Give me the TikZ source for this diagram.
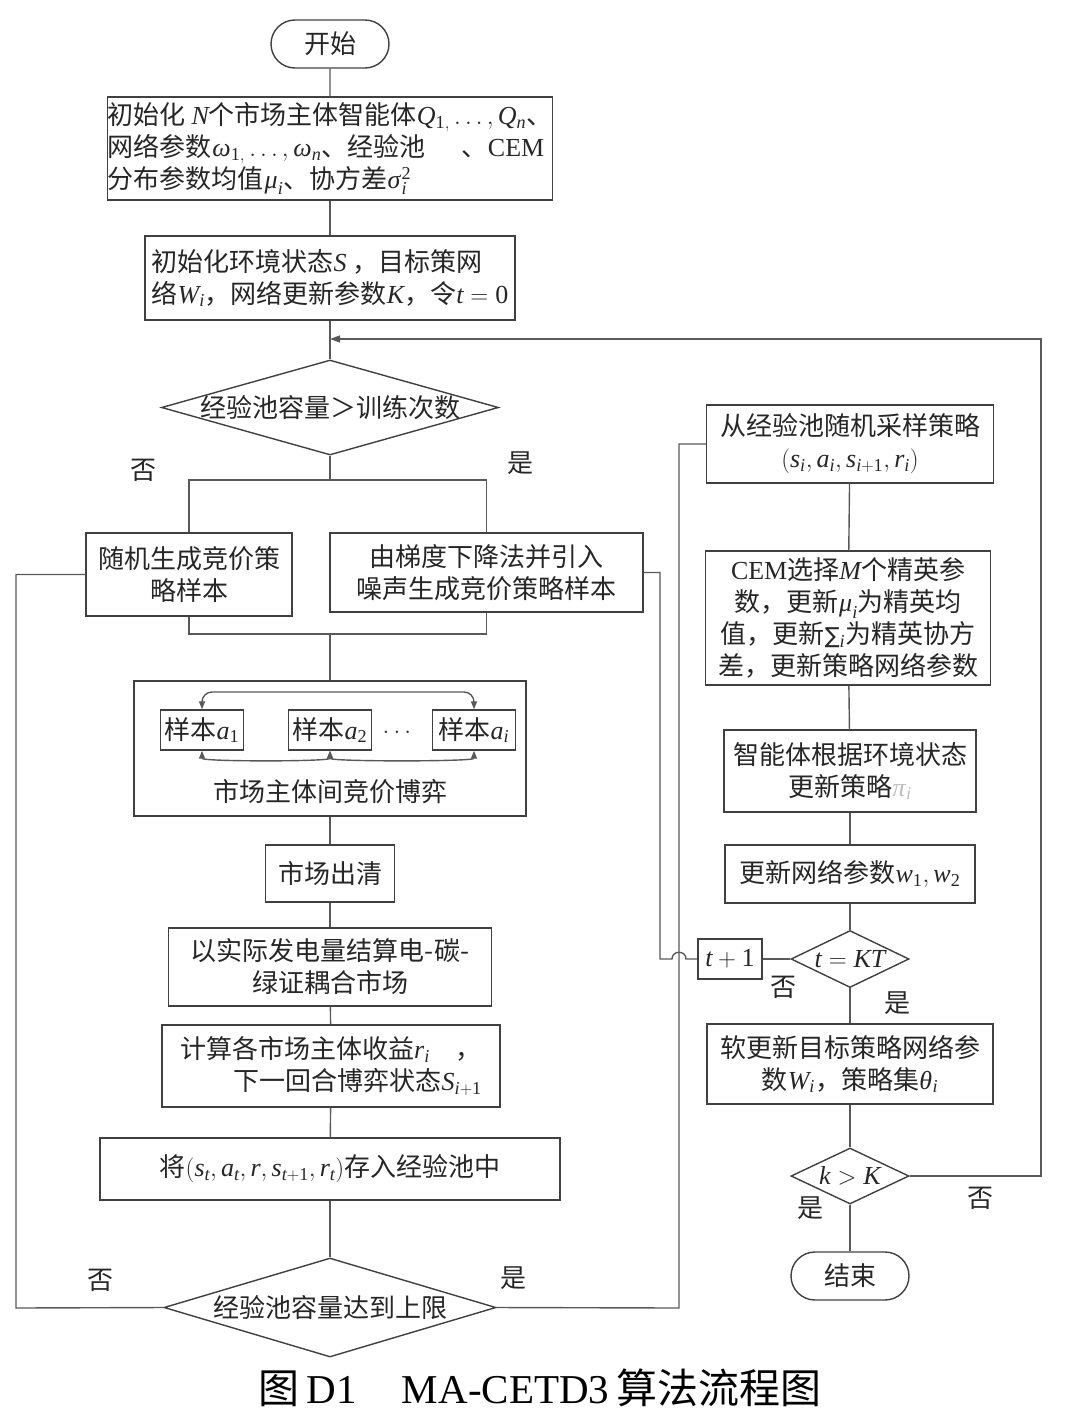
\documentclass[tikz,border=0pt]{standalone}
\usepackage{mathspec}
\setmainfont{Liberation Serif}
\setmathsfont(Digits,Latin,Greek){Liberation Serif}
\newfontfamily\cjk{Noto Sans CJK SC}
\newfontfamily\symf{DejaVu Sans}
\usetikzlibrary{shapes.geometric,shapes.misc,arrows.meta}

\begin{document}
\begin{tikzpicture}[%
    x=1pt, y=-1pt,                          % work on the pixel grid, top-down
    >={Triangle[length=10pt,width=7pt]},    % small solid arrow heads
    line width=1.4pt,
    ]
% -------------------------------------------------
% Box styles
\tikzset{
  base/.style={draw=black!75, text=black!85, align=center, inner sep=0pt,
    font=\cjk\fontsize{26}{32}\selectfont},
  proc/.style={base, rectangle},
  term/.style={base, rounded rectangle, minimum width=118pt, minimum height=48pt},
  test/.style={base, diamond},
  samp/.style={base, rectangle, minimum width=83pt, minimum height=40pt},
  % Connector line styles
  norm/.style={draw=black!65},
  lab/.style={text=black!85, inner sep=0pt, font=\cjk\fontsize{26}{32}\selectfont},
  tips/.style={norm, {Triangle[length=8pt,width=6pt]}-{Triangle[length=8pt,width=6pt]}}
}
\useasboundingbox (0,0) rectangle (1080,1414);
% -------------------------------------------------
% Left column
\node [term] (start) at (330,44) {开始};
\node [proc, minimum width=445pt, minimum height=103pt, align=left] (init1) at (330,148.5)
  {初始化 $N$个市场主体智能体$Q_{1,}\ldots,Q_n$、\\
   网络参数$\omega_{1,}\ldots,\omega_n$、经验池\hspace{1.4em}、{\rmfamily CEM}\\
   分布参数均值$\mu_i$、协方差$\sigma_i^2$};
\node [proc, minimum width=370pt, minimum height=84pt, align=left] (init2) at (330,278)
  {初始化环境状态$S$ ，目标策网\\络$W_i$，网络更新参数$K$，令$t=0$};
\node [test, minimum width=337pt, minimum height=95pt] (d1) at (330,407.5) {};
\node [lab] (d1txt) at (d1) {经验池容量＞训练次数};
\node [proc, minimum width=206pt, minimum height=83pt] (rand) at (189,574.5)
  {随机生成竞价策\\略样本};
\node [proc, minimum width=313pt, minimum height=79pt] (grad) at (486.5,572.5)
  {由梯度下降法并引入\\噪声生成竞价策略样本};
% bidding game between market players
\node [proc, minimum width=392pt, minimum height=135pt] (game) at (330,748.5) {};
\node [samp] (sa1) at (202,730) {样本$a_1$};
\node [samp] (sa2) at (330,730) {样本$a_2$};
\node [lab] (dots) at (397,732) {$\ldots$};
\node [samp] (sai) at (474,730) {样本$a_i$};
\node [lab] (gametxt) at (330,792) {市场主体间竞价博弈};
\node [proc, minimum width=129pt, minimum height=57pt] (clear) at (330,873.5) {市场出清};
\node [proc, minimum width=323pt, minimum height=78pt] (settle) at (330,967)
  {以实际发电量结算电-碳-\\绿证耦合市场};
\node [proc, minimum width=338pt, minimum height=82pt, align=right] (calc) at (331,1066)
  {计算各市场主体收益$r_i$\quad ，\\下一回合博弈状态$S_{i+1}$};
\node [proc, minimum width=460pt, minimum height=62pt] (store) at (330,1169)
  {将$(s_t,a_t,r,s_{t+1},r_t)$存入经验池中};
\node [test, minimum width=332pt, minimum height=99pt] (d2) at (330,1307.5) {};
\node [lab] (d2txt) at (d2) {经验池容量达到上限};
% -------------------------------------------------
% Right column
\node [proc, minimum width=287pt, minimum height=78pt] (draw) at (850,444)
  {从经验池随机采样策略\\$(s_i,a_i,s_{i+1},r_i)$};
\node [proc, minimum width=285pt, minimum height=134pt] (cem) at (848,618)
  {{\rmfamily CEM}选择$M$个精英参\\数，更新$\mu_i$为精英均\\值，更新{\symf\fontsize{22}{26}\selectfont ∑}$_i$为精英协方\\差，更新策略网络参数};
\node [proc, minimum width=252pt, minimum height=82pt] (agent) at (850,771)
  {智能体根据环境状态\\更新策略{\color{black!25}$\pi_i$}};
\node [proc, minimum width=250pt, minimum height=58pt] (upd) at (850,874)
  {更新网络参数$w_1,w_2$};
\node [test, minimum width=118pt, minimum height=57pt] (dKT) at (850,959) {};
\node [lab] (dKTtxt) at (dKT) {$t=KT$};
\node [proc, minimum width=64pt, minimum height=40pt] (tp1) at (730,959) {$t+1$};
\node [proc, minimum width=286pt, minimum height=80pt] (soft) at (850,1064)
  {软更新目标策略网络参\\数$W_i$，策略集$\theta_i$};
\node [test, minimum width=118pt, minimum height=56pt] (dkK) at (850,1176) {};
\node [lab] (dkKtxt) at (dkK) {$k>K$};
\node [term] (stop) at (850,1276) {结束};
% -------------------------------------------------
% Branch labels
\node [lab] (no1)  at (143,470)  {否};
\node [lab] (yes1) at (520,463)  {是};
\node [lab] (no2)  at (100,1280) {否};
\node [lab] (yes2) at (513,1278) {是};
\node [lab] (no3)  at (783,987)  {否};
\node [lab] (yes3) at (897,1003) {是};
\node [lab] (yes4) at (810,1208) {是};
\node [lab] (no4)  at (980,1198) {否};
% -------------------------------------------------
% Helper points for the bends
\coordinate (br) at (330,480);
\coordinate (mg) at (330,634);
\coordinate (gtop) at (330,692);
\coordinate (lb) at (16,1308);
\coordinate (rb) at (679,1308);
\coordinate (hopR) at (686,959);
\coordinate (hopL) at (672,959);
\coordinate (gb) at (660,959);
\coordinate (rt) at (1041,339);
\coordinate (mj) at (330,339);
% -------------------------------------------------
% Connectors, left column
\draw [norm] (start) -- (init1);
\draw [norm] (init1) -- (init2);
\draw [norm] (init2) -- (d1);
\draw [norm] (d1) -- (br);
\draw [norm] (rand.north) |- (br) -| (grad.north);
\draw [norm] (rand.south) |- (mg) -| (grad.south);
\draw [norm] (mg) -- (game);
\draw [tips, rounded corners=10pt] (sa1.north) |- (gtop) -| (sai.north);
\draw [tips] (sa1.south) .. controls +(0,11) and +(0,11) .. (sa2.south);
\draw [tips] (sa2.south) .. controls +(0,11) and +(0,11) .. (sai.south);
\draw [norm] (game) -- (clear);
\draw [norm] (clear) -- (settle);
\draw [norm] (settle) -- (calc);
\draw [norm] (calc) -- (store);
\draw [norm] (store) -- (d2);
\draw [norm] (d2.west) -- (lb) |- (rand.west);
\draw [norm] (d2.east) -- (rb) |- (draw.west);
% Connectors, right column
\draw [norm] (draw) -- (cem);
\draw [norm] (cem) -- (agent);
\draw [norm] (agent) -- (upd);
\draw [norm] (upd) -- (dKT);
\draw [norm] (dKT) -- (soft);
\draw [norm] (soft) -- (dkK);
\draw [norm] (dkK) -- (stop);
\draw [norm] (dKT.west) -- (tp1.east);
\draw [norm] (tp1.west) -- (hopR) .. controls +(0,-9) and +(0,-9) .. (hopL)
  -- (gb) |- (grad.east);
\draw [norm, ->] (dkK.east) -| (rt) -- (mj);
% -------------------------------------------------
\node [text=black, inner sep=0pt, font=\fontsize{41}{48}\selectfont] (cap) at (540,1388)
  {{\cjk 图}\,D1\hspace{1.1em}MA-CETD3\,{\cjk 算法流程图}};
\end{tikzpicture}
\end{document}
